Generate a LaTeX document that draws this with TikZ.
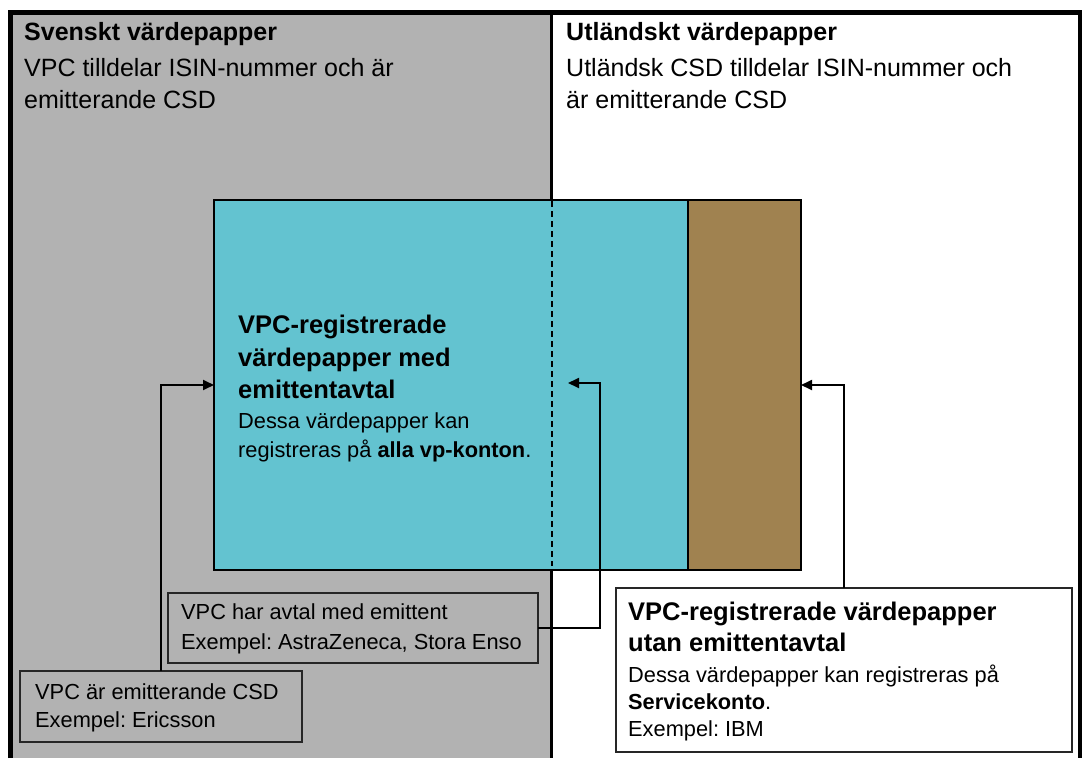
\documentclass[tikz,border=0pt]{standalone}
\usepackage{fontspec}
\setmainfont{Liberation Sans}
\usetikzlibrary{arrows.meta}
\definecolor{bggray}{RGB}{178,178,178}
\definecolor{vpccyan}{RGB}{99,195,208}
\definecolor{vpcbrown}{RGB}{160,130,80}
\tikzset{
  frameline/.style={line width=4.5pt},
  areabox/.style={draw=black, line width=1.3pt, inner sep=0pt, outer sep=0pt, anchor=north west},
  notebox/.style={draw=black!85, line width=1.3pt, inner sep=0pt, outer sep=0pt, anchor=north west},
  conn/.style={line width=1.8pt, -{Triangle[length=11pt,width=10pt]}},
  hdrbold/.style={anchor=base west, inner sep=0pt, font=\fontsize{25}{29}\selectfont\bfseries},
  hdrtext/.style={anchor=base west, inner sep=0pt, font=\fontsize{25}{29}\selectfont},
  bigbold/.style={anchor=base west, inner sep=0pt, font=\fontsize{25.5}{30}\selectfont\bfseries},
  smalltext/.style={anchor=base west, inner sep=0pt, font=\fontsize{21.8}{26}\selectfont},
}
\begin{document}
\frenchspacing
\begin{tikzpicture}[x=1pt,y=-1pt]
\useasboundingbox (0,0) rectangle (1082,758);
% background regions
\fill[white] (0,0) rectangle (1082,758);
\fill[bggray] (13,15) rectangle (551,758);
% frame
\draw[frameline] (10.5,758) -- (10.5,12.5) -- (1080,12.5) -- (1080,758);
\draw[line width=2.5pt] (551.5,14) -- (551.5,758);
% headers
\node[hdrbold] (h1) at (24,40) {Svenskt värdepapper};
\node[hdrtext] (h1a) at (24,76) {VPC tilldelar ISIN-nummer och är};
\node[hdrtext] (h1b) at (24,108) {emitterande CSD};
\node[hdrbold] (h2) at (566,40) {Utländskt värdepapper};
\node[hdrtext] (h2a) at (566,76) {Utländsk CSD tilldelar ISIN-nummer och};
\node[hdrtext] (h2b) at (566,108) {är emitterande CSD};
% central boxes
\node[areabox, fill=vpccyan, minimum width=474pt, minimum height=370pt] (cyan) at (214,200) {};
\node[areabox, fill=vpcbrown, minimum width=113pt, minimum height=370pt] (brown) at (688,200) {};
\coordinate (dtop) at (552,201);
\coordinate (dbot) at (552,566);
\draw[line width=1.2pt, dash pattern=on 6pt off 4pt] (dtop) -- (dbot);
\node[bigbold] (c1) at (238,333) {VPC-registrerade};
\node[bigbold] (c2) at (238,366) {värdepapper med};
\node[bigbold] (c3) at (238,398) {emittentavtal};
\node[smalltext] (c4) at (238,428) {Dessa värdepapper kan};
\node[smalltext] (c5) at (238,457) {registreras på \textbf{alla vp-konton}.};
% note boxes
\node[notebox, fill=bggray, minimum width=370pt, minimum height=70pt] (boxA) at (168,593) {};
\node[smalltext] (a1) at (181,619) {VPC har avtal med emittent};
\node[smalltext] (a2) at (181,649) {Exempel: AstraZeneca, Stora Enso};
\node[notebox, fill=bggray, minimum width=282pt, minimum height=71pt] (boxB) at (20,671) {};
\node[smalltext] (b1) at (35,699) {VPC är emitterande CSD};
\node[smalltext] (b2) at (35,727) {Exempel: Ericsson};
\node[notebox, fill=white, minimum width=456pt, minimum height=164pt] (boxC) at (616,588) {};
\node[bigbold] (d1) at (628,620) {VPC-registrerade värdepapper};
\node[bigbold] (d2) at (628,651) {utan emittentavtal};
\node[smalltext] (d3) at (628,682) {Dessa värdepapper kan registreras på};
\node[smalltext] (d4) at (628,709) {\textbf{Servicekonto}.};
\node[smalltext] (d5) at (628,736) {Exempel: IBM};
% connectors
\coordinate (k1) at (161,385);
\coordinate (k2a) at (538,628);
\coordinate (k2) at (600,383);
\coordinate (k2tip) at (568,383);
\coordinate (k3) at (844,385);
\draw[conn] (boxB.north -| k1) -- (k1) -- (cyan.west |- k1);
\draw[conn] (boxA.east |- k2a) -| (k2) -- (k2tip);
\draw[conn] (boxC.north -| k3) -- (k3) -- (brown.east |- k3);
\end{tikzpicture}
\end{document}
